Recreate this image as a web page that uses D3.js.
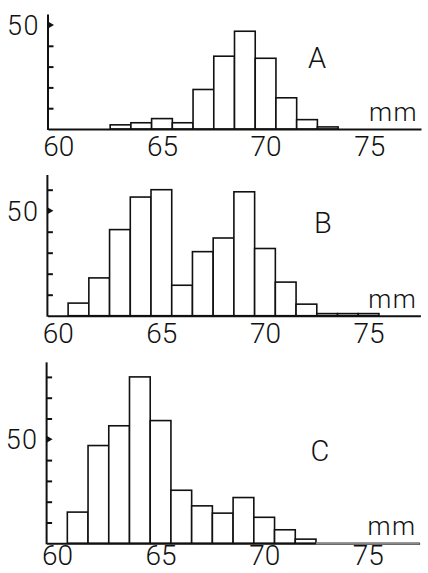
<!DOCTYPE html>
<html>
<head>
<meta charset="utf-8">
<script src="https://cdn.jsdelivr.net/npm/d3@7"></script>
<style>
  body { margin: 0; background: #fff; }
  text { font-family: Roboto, "Liberation Sans", Arial, sans-serif; font-weight: 300; fill: #111; }
</style>
</head>
<body>
<script>
// counts per 1 mm class
var catsA = [63, 64, 65, 66, 67, 68, 69, 70, 71, 72, 73];
var valsA = [2, 3, 5, 3, 19, 35, 47, 34, 15, 4.5, 1];

var catsB = [61, 62, 63, 64, 65, 66, 67, 68, 69, 70, 71, 72, 73, 74, 75];
var valsB = [6, 18, 41, 56.5, 60, 14.5, 30.5, 37, 59, 32, 16, 5.5, 1, 1, 1];

var catsC = [61, 62, 63, 64, 65, 66, 67, 68, 69, 70, 71, 72];
var valsC = [15, 47, 56.5, 80, 59, 25.5, 18, 14.5, 22, 12.5, 6.5, 2];

var xTicks = [60, 65, 70, 75];
var panelNames = ['A', 'B', 'C'];
var yMinorTicks = [[10, 20, 30, 40], [10, 20, 30, 40, 60], [10, 20, 30, 40, 60, 70, 80]];
var yAxisTops = [55, 67, 87];

var width = 428;
var height = 573;

// layout of each panel: baseline y, y of the 50 mark, shift, letter position
var layout = [
  {base: 129, y50: 25, dx: 0, lx: 317, ly: 68, pad: 7},
  {base: 315.7, y50: 210.7, dx: -0.6, lx: 323, ly: 233, pad: 7},
  {base: 543.3, y50: 439.3, dx: -1.4, lx: 320, ly: 461, pad: 2, greyTail: true}
];

var svg = d3.select('body').append('svg')
  .attr('width', width)
  .attr('height', height);

svg.append('rect')
  .attr('width', width)
  .attr('height', height)
  .attr('fill', '#fff');

var x = d3.scaleLinear().domain([59.5, 77.5]).range([48, 421]);

var panels = [
  {cats: catsA, vals: valsA},
  {cats: catsB, vals: valsB},
  {cats: catsC, vals: valsC}
];

panels.forEach(function(p, i) {
  var lay = layout[i];
  var y = d3.scaleLinear().domain([0, 50]).range([lay.base, lay.y50]);
  var g = svg.append('g').attr('transform', 'translate(' + lay.dx + ',0)');

  // bars
  g.selectAll('rect.bar')
    .data(p.cats.map(function(c, j) { return {c: c, v: p.vals[j]}; }))
    .enter().append('rect')
      .attr('class', 'bar')
      .attr('x', function(d) { return x(d.c - 0.5); })
      .attr('width', function(d) { return x(d.c + 0.5) - x(d.c - 0.5); })
      .attr('y', function(d) { return y(d.v); })
      .attr('height', function(d) { return lay.base - y(d.v); })
      .attr('fill', '#fff')
      .attr('stroke', '#111')
      .attr('stroke-width', 1.6);

  // x axis: line and labels
  var xAxis = g.append('g')
    .attr('transform', 'translate(0,' + lay.base + ')')
    .call(d3.axisBottom(x)
      .tickValues(xTicks)
      .tickSize(0)
      .tickSizeOuter(0)
      .tickPadding(lay.pad)
      .tickFormat(d3.format('d')));
  xAxis.select('.domain')
    .attr('stroke', '#111')
    .attr('stroke-width', 2);
  xAxis.selectAll('text')
    .attr('font-size', 28)
    .attr('font-family', 'Roboto, "Liberation Sans", Arial, sans-serif')
    .attr('font-weight', 300)
    .attr('fill', '#111');

  if (lay.greyTail) {
    var lastCat = p.cats[p.cats.length - 1];
    g.append('line')
      .attr('x1', x(lastCat + 0.5))
      .attr('x2', x(77.5))
      .attr('y1', lay.base)
      .attr('y2', lay.base)
      .attr('stroke', '#8a8a8a')
      .attr('stroke-width', 2.2);
  }

  // y axis with inward ticks
  var yAxis = g.append('g')
    .attr('transform', 'translate(' + x(59.5) + ',0)')
    .call(d3.axisRight(y)
      .tickValues(yMinorTicks[i])
      .tickSize(5.5)
      .tickSizeOuter(0)
      .tickFormat(''));
  yAxis.select('.domain').remove();
  yAxis.selectAll('.tick line')
    .attr('stroke', '#111')
    .attr('stroke-width', 2);
  yAxis.append('line')
    .attr('x1', 0).attr('x2', 0)
    .attr('y1', y(0) + 1)
    .attr('y2', y(yAxisTops[i]))
    .attr('stroke', '#111')
    .attr('stroke-width', 2);

  // triangle marker at 50
  yAxis.append('path')
    .attr('d', 'M0,' + (y(50) - 3.5) + 'L6,' + y(50) + 'L0,' + (y(50) + 3.5) + 'Z')
    .attr('fill', '#111');

  g.append('text')
    .attr('x', 40)
    .attr('y', y(50) + 10)
    .attr('text-anchor', 'end')
    .attr('font-size', 27)
    .attr('letter-spacing', 1.5)
    .text('50');

  g.append('text')
    .attr('x', 418)
    .attr('y', lay.base - 8)
    .attr('text-anchor', 'end')
    .attr('font-size', 26)
    .attr('letter-spacing', 1.5)
    .text('mm');

  svg.append('text')
    .attr('x', lay.lx)
    .attr('y', lay.ly)
    .attr('text-anchor', 'middle')
    .attr('font-size', 29)
    .text(panelNames[i]);
});
</script>
</body>
</html>
